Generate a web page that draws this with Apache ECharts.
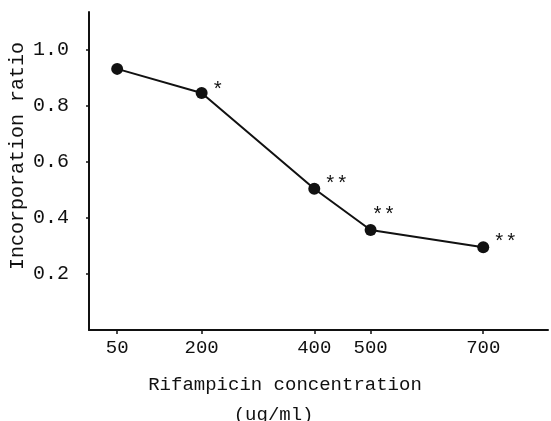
<!DOCTYPE html>
<html>
<head>
<meta charset="utf-8">
<script src="https://cdn.jsdelivr.net/npm/echarts@6/dist/echarts.min.js"></script>
<style>
  html, body { margin: 0; padding: 0; background: #fff; }
  #chart { width: 551px; height: 421px; }
</style>
</head>
<body>
<div id="chart"></div>
<script>
// concentration (ug/ml) and measured ratio
const concentrations = [50, 200, 400, 500, 700];
const ratios = [0.932, 0.846, 0.504, 0.357, 0.295];
const significance = ["", "*", "**", "**", "**"];
const xTicks = [50, 200, 400, 500, 700];
const yTicks = [0.2, 0.4, 0.6, 0.8, 1.0];

const font = "Liberation Mono";
const ink = "#111";

// label nudges so the stars sit where the scan has them
const starOffsets = [[0, 0], [0, -2], [0, -4], [-9, -14], [0, -5]];

const chart = echarts.init(document.getElementById("chart"));

chart.setOption({
  backgroundColor: "#fff",
  animation: false,
  grid: { left: 89, right: 3, top: 12, bottom: 91, outerBoundsMode: "none" },
  xAxis: {
    type: "value",
    min: 0,
    max: 815,
    splitLine: { show: false },
    axisLine: { show: true, onZero: false, lineStyle: { color: ink, width: 2 } },
    axisTick: { show: true, length: 4, customValues: xTicks, lineStyle: { color: ink, width: 1.5 } },
    axisLabel: {
      customValues: xTicks,
      color: ink,
      fontFamily: font,
      fontSize: 19,
      margin: 8
    },
    name: "Rifampicin concentration\n(ug/ml)  ",
    nameLocation: "middle",
    nameGap: 40,
    nameMoveOverlap: false,
    nameTextStyle: {
      color: ink,
      fontFamily: font,
      fontSize: 19,
      lineHeight: 30,
      verticalAlign: "top",
      padding: [0, 67, 0, 0]
    }
  },
  yAxis: {
    type: "value",
    min: 0,
    max: 1.135,
    splitLine: { show: false },
    axisLine: { show: true, lineStyle: { color: ink, width: 2 } },
    axisTick: { show: true, length: 3, customValues: yTicks, lineStyle: { color: ink, width: 1.5 } },
    axisLabel: {
      customValues: yTicks,
      formatter: (v) => v.toFixed(1),
      color: ink,
      fontFamily: font,
      fontSize: 20,
      margin: 20
    },
    name: "Incorporation ratio",
    nameLocation: "middle",
    nameRotate: 90,
    nameGap: 61,
    nameMoveOverlap: false,
    nameTextStyle: { color: ink, fontFamily: font, fontSize: 20, padding: [0, 0, 0, 30] }
  },
  series: [
    {
      type: "line",
      data: concentrations.map((c, i) => ({
        value: [c, ratios[i]],
        label: { offset: starOffsets[i] }
      })),
      symbol: "circle",
      symbolSize: 12,
      lineStyle: { color: ink, width: 2 },
      itemStyle: { color: ink },
      label: {
        show: true,
        position: "right",
        distance: 4,
        formatter: (p) => significance[p.dataIndex],
        color: ink,
        fontFamily: font,
        fontSize: 20
      }
    }
  ]
});
</script>
</body>
</html>
